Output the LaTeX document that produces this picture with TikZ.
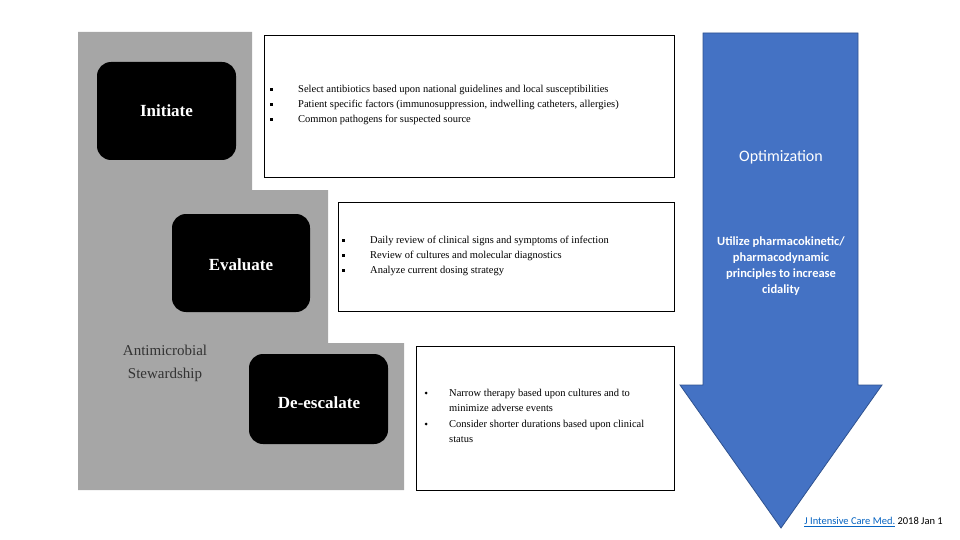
\documentclass[tikz,border=0pt]{standalone}
\usepackage{fontspec}
\setmainfont{Liberation Serif}
\newfontfamily\calfont{Carlito}
\definecolor{grayf}{HTML}{A6A6A6}
\definecolor{blu}{HTML}{4472C4}
\definecolor{bludk}{HTML}{2F528F}
\definecolor{lnk}{HTML}{0563C1}
\newcommand{\sqb}[1]{\makebox[#1][l]{\rule[0.35ex]{2.5pt}{2.5pt}}}
\newcommand{\rdb}{\tikz\fill (0,0) circle (1.5pt);}
\begin{document}
\begin{tikzpicture}[x=1pt,y=-1pt,
  blk/.style={fill=black,rounded corners=14pt},
  lab/.style={text=white,font=\bfseries\fontsize{17}{20}\selectfont},
  tbox/.style={draw=black,line width=1pt,fill=white},
  bl/.style={anchor=north west,font=\fontsize{10.5}{15}\selectfont,align=left,inner sep=0}]
\useasboundingbox (0,0) rectangle (960,540);
\fill[grayf] (78,32)--(252,32)--(252,190)--(328,190)--(328,343)--(404,343)--(404,490)--(78,490)--cycle;
\fill[blk] (97,62) rectangle (236,160);
\node[lab] (ini) at (166.5,111) {Initiate};
\fill[blk] (172,214) rectangle (310,312);
\node[lab] (eva) at (241,265) {Evaluate};
\fill[blk] (249,354) rectangle (388,444);
\node[lab] (des) at (319,403) {De-escalate};
\node[font=\fontsize{15}{23}\selectfont,text=black!80,align=center] (ams) at (165,363) {Antimicrobial\\Stewardship};
\draw[tbox] (264,36) rectangle (674,178);
\node[bl] (t1) at (270,85) {\sqb{28pt}Select antibiotics based upon national guidelines and local susceptibilities\\\sqb{28pt}Patient specific factors (immunosuppression, indwelling catheters, allergies)\\\sqb{28pt}Common pathogens for suspected source};
\draw[tbox] (338,202) rectangle (674,311);
\node[bl] (t2) at (342,236) {\sqb{28pt}Daily review of clinical signs and symptoms of infection\\\sqb{28pt}Review of cultures and molecular diagnostics\\\sqb{28pt}Analyze current dosing strategy};
\draw[tbox] (416,346) rectangle (674,490);
\node[bl] (t3a) at (449,389) {Narrow therapy based upon cultures and to\\minimize adverse events};
\node[bl] (t3b) at (449,420) {Consider shorter durations based upon clinical\\status};
\node[inner sep=0] (b3a) at (426,393) {\rdb};
\node[inner sep=0] (b3b) at (426,424) {\rdb};
\filldraw[fill=blu,draw=bludk,line width=0.8pt] (703,33)--(858,33)--(858,385)--(882,385)--(781,528)--(680,385)--(703,385)--cycle;
\node[text=white,font=\calfont\fontsize{16}{20}\selectfont] (opt) at (781,157) {Optimization};
\node[text=white,font=\calfont\bfseries\fontsize{12.5}{16}\selectfont,align=center] (ut) at (781,266) {Utilize pharmacokinetic/\\pharmacodynamic\\principles to increase\\cidality};
\node[anchor=east,font=\calfont\fontsize{10.5}{12}\selectfont,inner sep=0] (cit) at (943,522) {\textcolor{lnk}{\underline{J Intensive Care Med.}} 2018 Jan 1};
\end{tikzpicture}
\end{document}
